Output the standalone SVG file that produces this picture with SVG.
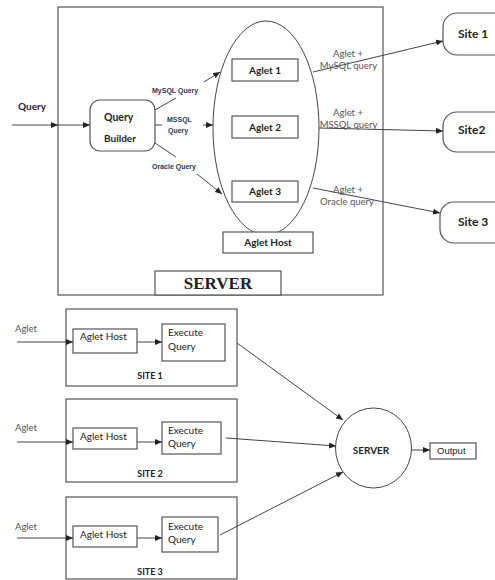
<svg xmlns="http://www.w3.org/2000/svg" width="495" height="580" viewBox="0 0 495 580">
  <style>
    .box { fill: #fff; stroke: #555; stroke-width: 1.2; }
    .ln { fill: none; stroke: #444; stroke-width: 1; }
    .arr { fill: none; stroke: #444; stroke-width: 1; marker-end: url(#ah); }
    .cal { font-family: Lato, "Open Sans", sans-serif; fill: #222; }
    .b { font-weight: bold; }
    .tiny { font-family: "Liberation Sans", Arial, sans-serif; font-size: 7px; font-weight: bold; fill: #2b3552; }
    .grey { font-family: Lato, "Open Sans", sans-serif; font-size: 9.5px; fill: #555; }
  </style>
  <defs>
    <marker id="ah" markerUnits="userSpaceOnUse" markerWidth="7" markerHeight="6" refX="7" refY="3" orient="auto">
      <path d="M0,0 L7,3 L0,6 z" fill="#222"/>
    </marker>
  </defs>
  <rect width="495" height="580" fill="#fff"/>

  <!-- upper part: server dispatching aglets -->
  <g id="server">
    <rect class="box" x="58" y="7" width="325" height="288"/>
    <rect class="box" x="155" y="271" width="126" height="24"/>
    <text x="218" y="289" text-anchor="middle" font-family="'Liberation Serif', serif" font-weight="bold" font-size="17" fill="#222">SERVER</text>
  </g>

  <g id="query-builder">
    <rect class="box" x="90" y="100" width="65" height="51" rx="10"/>
    <text class="cal b" x="104" y="121" font-size="10.5">Query</text>
    <text class="cal b" x="104" y="142" font-size="10">Builder</text>
  </g>

  <g id="aglet-pool">
    <ellipse class="ln" cx="266" cy="128" rx="53" ry="107" stroke="#555"/>
  </g>
  <g id="aglet-1">
    <rect class="box" x="232" y="59" width="66" height="22"/>
    <text class="cal b" x="265" y="73.5" font-size="10" text-anchor="middle">Aglet 1</text>
  </g>
  <g id="aglet-2">
    <rect class="box" x="232" y="116" width="66" height="22"/>
    <text class="cal b" x="265" y="130.5" font-size="10" text-anchor="middle">Aglet 2</text>
  </g>
  <g id="aglet-3">
    <rect class="box" x="232" y="181" width="66" height="21"/>
    <text class="cal b" x="265" y="195" font-size="10" text-anchor="middle">Aglet 3</text>
  </g>
  <g id="aglet-host">
    <rect class="box" x="223" y="232" width="90" height="21"/>
    <text class="cal b" x="268" y="246" font-size="10" text-anchor="middle">Aglet Host</text>
  </g>

  <g id="site-1">
    <rect class="box" x="443" y="13" width="80" height="42" rx="14"/>
    <text class="cal b" x="458" y="38" font-size="12">Site 1</text>
  </g>
  <g id="site-2">
    <rect class="box" x="443" y="112" width="80" height="40" rx="14"/>
    <text class="cal b" x="458" y="134" font-size="12">Site2</text>
  </g>
  <g id="site-3">
    <rect class="box" x="440" y="202" width="80" height="41" rx="14"/>
    <text class="cal b" x="458" y="226" font-size="12">Site 3</text>
  </g>

  <!-- lower part: sites executing and replying -->
  <g id="site-box-1">
    <rect class="box" x="66" y="309" width="171" height="77"/>
    <rect class="box" x="73" y="329" width="64" height="24"/>
    <text class="cal" x="80" y="340" font-size="10">Aglet Host</text>
    <rect class="box" x="162" y="324" width="63" height="37"/>
    <text class="cal" x="168" y="336" font-size="10">Execute</text>
    <text class="cal" x="168" y="350" font-size="10">Query</text>
    <text class="cal b" x="150" y="379" font-size="9" text-anchor="middle">SITE 1</text>
  </g>
  <g id="site-box-2">
    <rect class="box" x="66" y="399" width="171" height="83"/>
    <rect class="box" x="73" y="428" width="64" height="21"/>
    <text class="cal" x="80" y="440" font-size="10">Aglet Host</text>
    <rect class="box" x="162" y="422" width="59" height="32"/>
    <text class="cal" x="168" y="434" font-size="10">Execute</text>
    <text class="cal" x="168" y="447" font-size="10">Query</text>
    <text class="cal b" x="150" y="477" font-size="9" text-anchor="middle">SITE 2</text>
  </g>
  <g id="site-box-3">
    <rect class="box" x="66" y="497" width="171" height="82"/>
    <rect class="box" x="73" y="526" width="64" height="21"/>
    <text class="cal" x="80" y="538" font-size="10">Aglet Host</text>
    <rect class="box" x="162" y="517" width="56" height="35"/>
    <text class="cal" x="168" y="530" font-size="10">Execute</text>
    <text class="cal" x="168" y="543" font-size="10">Query</text>
    <text class="cal b" x="150" y="575" font-size="9" text-anchor="middle">SITE 3</text>
  </g>

  <g id="server-node">
    <ellipse class="ln" cx="373.5" cy="448" rx="38" ry="40" stroke="#555"/>
    <text class="cal b" x="371" y="453.5" font-size="10" text-anchor="middle">SERVER</text>
  </g>
  <g id="output">
    <rect class="box" x="430" y="443" width="46" height="16"/>
    <text x="437" y="454" font-family="'Liberation Sans', Arial, sans-serif" font-size="9.5" fill="#222">Output</text>
  </g>

  <!-- connectors -->
  <g id="connectors">
    <line class="arr" x1="12" y1="125" x2="58" y2="125"/>
    <line class="arr" x1="58" y1="125" x2="90" y2="125"/>
    <line class="ln" x1="155" y1="110" x2="176" y2="98"/>
    <line class="arr" x1="204" y1="82" x2="220" y2="72"/>
    <line class="ln" x1="155" y1="125" x2="162" y2="125"/>
    <line class="arr" x1="203" y1="125" x2="213" y2="125"/>
    <line class="ln" x1="155" y1="143" x2="176" y2="157"/>
    <line class="arr" x1="197" y1="174" x2="222" y2="194"/>
    <line class="arr" x1="313" y1="72" x2="443" y2="41"/>
    <line class="arr" x1="319" y1="128" x2="443" y2="131"/>
    <line class="arr" x1="313" y1="188" x2="440" y2="213"/>

    <line class="arr" x1="17" y1="342" x2="73" y2="342"/>
    <line class="arr" x1="137" y1="342" x2="162" y2="342"/>
    <line class="arr" x1="17" y1="442" x2="73" y2="442"/>
    <line class="arr" x1="137" y1="442" x2="162" y2="442"/>
    <line class="arr" x1="17" y1="538" x2="73" y2="538"/>
    <line class="arr" x1="137" y1="538" x2="162" y2="538"/>

    <line class="arr" x1="237" y1="343" x2="343" y2="420"/>
    <line class="arr" x1="226" y1="438" x2="336" y2="446"/>
    <line class="arr" x1="220" y1="535" x2="343" y2="472"/>
    <line class="arr" x1="411" y1="450" x2="430" y2="450"/>
  </g>

  <!-- connector labels -->
  <g id="labels">
    <text class="cal b" x="18" y="110" font-size="10">Query</text>
    <text class="tiny" x="152" y="92.5">MySQL Query</text>
    <text class="tiny" x="167" y="121.5">MSSQL</text>
    <text class="tiny" x="168" y="132.5">Query</text>
    <text class="tiny" x="152" y="168.5">Oracle Query</text>
    <text class="grey" x="348" y="56.5" text-anchor="middle">Aglet +</text>
    <text class="grey" x="348.5" y="68.5" text-anchor="middle">MySQL query</text>
    <text class="grey" x="348" y="115.5" text-anchor="middle">Aglet +</text>
    <text class="grey" x="348.5" y="127.5" text-anchor="middle">MSSQL query</text>
    <text class="grey" x="348" y="192.5" text-anchor="middle">Aglet +</text>
    <text class="grey" x="347" y="204.5" text-anchor="middle">Oracle query</text>
    <text class="grey" x="15" y="332">Aglet</text>
    <text class="grey" x="15" y="431">Aglet</text>
    <text class="grey" x="15" y="530">Aglet</text>
  </g>
</svg>
